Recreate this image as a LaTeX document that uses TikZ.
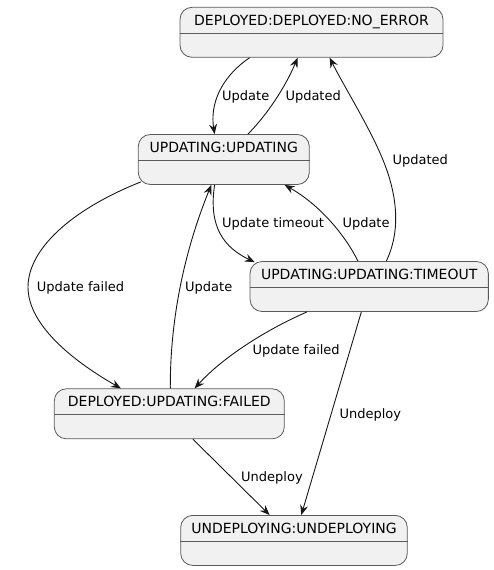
\documentclass[tikz,border=0pt]{standalone}
\usepackage{fontspec}
\setmainfont{DejaVu Sans}
\usetikzlibrary{arrows.meta}
\definecolor{boxfill}{HTML}{F1F1F1}
\definecolor{linec}{HTML}{181818}
\definecolor{borderc}{HTML}{5A5A5A}
\begin{document}
\begin{tikzpicture}[x=1pt,y=1pt,
  state/.style={draw=borderc, fill=boxfill, line width=0.8pt, rounded corners=12pt, inner sep=0pt},
  title/.style={font=\fontsize{14}{14}\selectfont, inner sep=0pt, text height=10.2pt, text depth=0pt},
  divider/.style={draw=borderc, line width=0.8pt},
  conn/.style={draw=linec, line width=0.9pt, -{Stealth[length=10pt,width=8pt,inset=3.5pt]}},
  lbl/.style={font=\fontsize{13}{13}\selectfont, inner sep=0pt, text height=9.5pt, text depth=0pt, anchor=west}]
\useasboundingbox (0,0) rectangle (494,-570);
% states
\node[state, minimum width=263pt, minimum height=50pt] (ne) at (311.5,-32.3) {};
\node[state, minimum width=171pt, minimum height=50pt] (up) at (223.8,-159.5) {};
\node[state, minimum width=238.3pt, minimum height=50pt] (to) at (369.2,-286.5) {};
\node[state, minimum width=230pt, minimum height=50pt] (fa) at (169.3,-413.8) {};
\node[state, minimum width=226.6pt, minimum height=50pt] (un) at (294,-540.4) {};
\foreach \n/\t in {ne/{DEPLOYED:DEPLOYED:NO\_ERROR}, up/{UPDATING:UPDATING}, to/{UPDATING:UPDATING:TIMEOUT}, fa/{DEPLOYED:UPDATING:FAILED}, un/{UNDEPLOYING:UNDEPLOYING}}{
  \node[title] (\n-t) at ([yshift=-13pt]\n.north) {\t};
  \draw[divider] ([yshift=-26pt]\n.north west) -- ([yshift=-26pt]\n.north east);
}
% connectors
\draw[conn] ([xshift=70pt]ne.south west) .. controls (220,-78) and (210,-105) .. ([xshift=76.7pt]up.north west);
\node[lbl] (la) at (222,-96) {Update};
\draw[conn] ([xshift=110pt]up.north west) .. controls (266,-116) and (285,-88) .. ([xshift=118pt]ne.south west);
\node[lbl] (lb) at (285.3,-96) {Updated};
\draw[conn] ([xshift=136.7pt]to.north west) .. controls (402,-228) and (396,-192) .. (383,-160) .. controls (370,-128) and (345,-88) .. ([xshift=150pt]ne.south west);
\node[lbl] (lc) at (392.3,-160) {Updated};
\draw[conn] ([xshift=76.7pt]up.south west) .. controls (208,-228) and (225,-248) .. ([shift={(5pt,-1pt)}]to.north west);
\node[lbl] (ld) at (222,-222.7) {Update timeout};
\draw[conn] ([xshift=108.3pt]to.north west) .. controls (345,-235) and (320,-205) .. ([xshift=146.7pt]up.south west);
\node[lbl] (le) at (342.3,-222.7) {Update};
\draw[conn] ([shift={(3pt,3pt)}]up.south west) .. controls (70,-210) and (28,-250) .. (28,-287) .. controls (28,-328) and (80,-365) .. ([xshift=67pt]fa.north west);
\node[lbl] (lf) at (36.7,-286.7) {Update failed};
\draw[conn] ([xshift=116.4pt]fa.north west) .. controls (170,-320) and (184,-252) .. ([xshift=73.4pt]up.south west);
\node[lbl] (lg) at (185,-286.7) {Update};
\draw[conn] ([xshift=57.3pt]to.south west) .. controls (270,-328) and (225,-355) .. ([xshift=140.7pt]fa.north west);
\node[lbl] (lh) at (252.3,-349.3) {Update failed};
\draw[conn] ([xshift=111.7pt]to.south west) -- ([xshift=121pt]un.north west);
\node[lbl] (li) at (339.3,-413.3) {Undeploy};
\draw[conn] ([xshift=139pt]fa.south west) -- ([xshift=89.3pt]un.north west);
\node[lbl] (lj) at (241,-476.7) {Undeploy};
\end{tikzpicture}
\end{document}
